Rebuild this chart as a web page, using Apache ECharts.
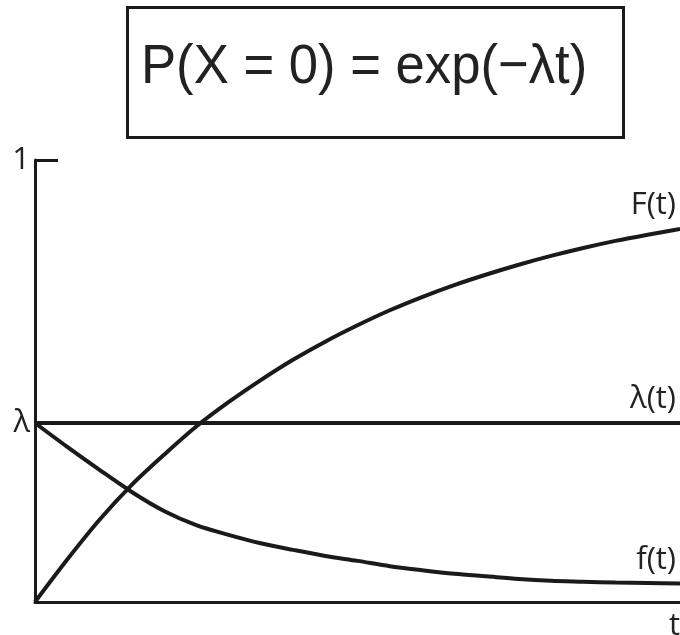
<!DOCTYPE html>
<html>
<head>
<meta charset="utf-8">
<script src="https://cdn.jsdelivr.net/npm/echarts@6/dist/echarts.min.js"></script>
<style>
  html, body { margin: 0; padding: 0; background: #fff; }
  #chart { width: 680px; height: 635px; }
</style>
</head>
<body>
<div id="chart"></div>
<script>
// time samples (t from 0 to 10 across the axis)
var tValues = [0, 0.5, 1, 1.5, 2, 2.5, 3, 3.5, 4, 4.5, 5, 5.5, 6, 6.5, 7, 7.5, 8, 8.5, 9, 9.5, 10];
// cumulative F(t)
var FValues = [0, 0.096, 0.186, 0.265, 0.333, 0.397, 0.452, 0.502, 0.548, 0.589, 0.626,
               0.660, 0.690, 0.717, 0.741, 0.763, 0.783, 0.801, 0.817, 0.831, 0.844];
// density f(t)
var fValues = [0.405, 0.351, 0.299, 0.249, 0.206, 0.174, 0.152, 0.133, 0.118, 0.104, 0.093,
               0.081, 0.072, 0.064, 0.058, 0.052, 0.048, 0.046, 0.044, 0.043, 0.042];
// constant hazard rate
var lambdaValue = 0.405;
var yTickValues = [lambdaValue, 1];
var yTickLabels = ['λ', '1'];
var titleText = 'P(X = 0) = exp(−λt)';

function pairs(xs, ys) {
    var out = [];
    for (var i = 0; i < xs.length; i++) out.push([xs[i], ys[i]]);
    return out;
}

var ink = '#1a1a1a';
var labelFont = '"Open Sans", sans-serif';

function endLabel(text) {
    return {
        show: true, formatter: text,
        fontFamily: labelFont, fontSize: 31, color: '#222',
        align: 'right', verticalAlign: 'bottom', offset: [-12, -8]
    };
}

var myChart = echarts.init(document.getElementById('chart'));
myChart.setOption({
    backgroundColor: '#fff',
    animation: false,
    grid: {
        left: 35, right: 0, top: 160, bottom: 33,
        outerBoundsMode: 'none'
    },
    graphic: [
        {
            type: 'rect',
            shape: { x: 127.5, y: 7.5, width: 496, height: 130 },
            style: { fill: '#fff', stroke: ink, lineWidth: 3 }
        },
        {
            type: 'text',
            x: 141, y: 68,
            scaleX: 0.94,
            style: {
                text: titleText,
                fontFamily: '"Liberation Sans", Arial, sans-serif',
                fontSize: 56,
                fill: '#222',
                verticalAlign: 'middle'
            }
        }
    ],
    xAxis: {
        type: 'value',
        min: 0,
        max: 10,
        name: 't',
        nameLocation: 'end',
        nameGap: 0,
        nameTextStyle: {
            fontFamily: labelFont, fontSize: 31, color: '#222',
            align: 'right', verticalAlign: 'top', padding: [9, 0, 0, 0]
        },
        axisLine: { lineStyle: { color: ink, width: 3 } },
        axisTick: { show: false },
        axisLabel: { show: false },
        splitLine: { show: false }
    },
    yAxis: {
        type: 'value',
        min: 0,
        max: 1,
        axisLine: { show: true, lineStyle: { color: ink, width: 3 } },
        axisTick: {
            show: true, inside: true, length: 23,
            customValues: [1],
            lineStyle: { color: ink, width: 3 }
        },
        axisLabel: {
            customValues: yTickValues,
            margin: 5,
            fontFamily: labelFont, fontSize: 31, color: '#222',
            formatter: function (v) {
                return yTickLabels[yTickValues.indexOf(v)];
            }
        },
        splitLine: { show: false }
    },
    series: [
        {
            name: 'F(t)',
            type: 'line',
            data: pairs(tValues, FValues),
            smooth: 0.3,
            showSymbol: false,
            lineStyle: { color: ink, width: 4 },
            endLabel: endLabel('F(t)')
        },
        {
            name: 'λ(t)',
            type: 'line',
            data: [[tValues[0], lambdaValue], [tValues[tValues.length - 1], lambdaValue]],
            showSymbol: false,
            lineStyle: { color: ink, width: 4 },
            endLabel: endLabel('λ(t)')
        },
        {
            name: 'f(t)',
            type: 'line',
            data: pairs(tValues, fValues),
            smooth: 0.3,
            showSymbol: false,
            lineStyle: { color: ink, width: 4 },
            endLabel: endLabel('f(t)')
        }
    ]
});
</script>
</body>
</html>
